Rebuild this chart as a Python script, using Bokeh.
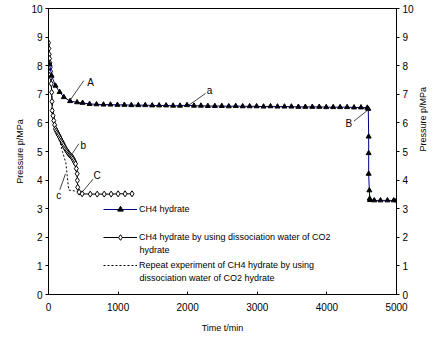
from bokeh.plotting import figure
from bokeh.models import Range1d, LinearAxis, Legend, LegendItem, FixedTicker, ColumnDataSource
from bokeh.embed import file_html
from bokeh.resources import INLINE
from bokeh.core.properties import value
import math

# ---------------- data ----------------
# CH4 hydrate (filled triangles)
t_ch4 = [15, 45, 100, 160, 220, 310, 410, 490, 590, 690, 790, 890, 990, 1090, 1190,
         1290, 1390, 1490, 1590, 1690, 1790, 1890, 1990, 2090, 2190, 2290, 2390, 2490,
         2590, 2690, 2790, 2890, 2990, 3090, 3190, 3290, 3390, 3490, 3590, 3690, 3790,
         3890, 3990, 4090, 4190, 4290, 4390, 4490, 4580, 4595, 4600, 4600, 4600, 4610,
         4615, 4620, 4680, 4770, 4870, 4960, 5000]
p_ch4 = [8.05, 7.65, 7.30, 7.08, 6.90, 6.76, 6.72, 6.70, 6.66, 6.65, 6.64, 6.64, 6.63, 6.63, 6.62,
         6.62, 6.62, 6.61, 6.61, 6.61, 6.60, 6.60, 6.62, 6.60, 6.60, 6.59, 6.59, 6.59,
         6.58, 6.59, 6.58, 6.58, 6.58, 6.57, 6.58, 6.57, 6.57, 6.57, 6.56, 6.56, 6.56,
         6.56, 6.55, 6.55, 6.55, 6.55, 6.54, 6.54, 6.53, 6.49, 5.52, 4.94, 4.22, 3.64,
         3.35, 3.30, 3.29, 3.29, 3.29, 3.29, 3.29]

# CH4 hydrate by using dissociation water of CO2 hydrate (open diamonds)
t_dw = [0, 5, 10, 15, 20, 25, 30, 35, 40, 45, 50, 53, 65, 76, 88, 100, 112, 124, 136,
        148, 160, 172, 184, 196, 208, 220, 232, 244, 256, 268, 280, 292, 304, 316, 328,
        340, 352, 364, 376, 388, 400, 412, 415, 420, 440, 484, 600, 700, 800, 900,
        1000, 1100, 1200]
p_dw = [8.80, 8.60, 8.40, 8.25, 8.10, 7.95, 7.80, 7.60, 7.37, 7.07, 6.75, 6.43, 6.25,
        6.08, 5.93, 5.79, 5.73, 5.67, 5.61, 5.56, 5.50, 5.44, 5.38, 5.33, 5.27, 5.21,
        5.15, 5.10, 5.05, 5.01, 4.96, 4.92, 4.89, 4.86, 4.83, 4.80, 4.75, 4.69, 4.63,
        4.57, 4.40, 4.22, 3.99, 3.75, 3.58, 3.52, 3.51, 3.51, 3.51, 3.51, 3.52, 3.52,
        3.52]

# Repeat experiment (dotted line)
t_rep = [0, 20, 40, 60, 100, 150, 200, 250, 290, 430]
p_rep = [8.75, 8.10, 7.30, 6.50, 5.85, 5.50, 5.00, 4.60, 3.65, 3.60]

x_ticks = [0, 1000, 2000, 3000, 4000, 5000]
y_ticks = [0, 1, 2, 3, 4, 5, 6, 7, 8, 9, 10]

y_title = "Pressure p/MPa"
x_title = "Time t/min"
labels = ["CH4 hydrate",
          "CH4 hydrate by using dissociation water of CO2",
          "Repeat experiment of CH4 hydrate by using"]
label_cont = ["hydrate", "dissociation water of CO2 hydrate"]

# annotation letters and leader lines
ann_text = ["A", "a", "B", "b", "C", "c"]
ann_tx = [603, 2313, 4315, 498, 699, 148]
ann_ty = [7.42, 7.13, 5.99, 5.21, 4.16, 3.46]
lead_x0 = [290, 2011, 4387, 340, 484, 163]
lead_y0 = [6.72, 6.61, 6.06, 4.92, 3.58, 3.66]
lead_x1 = [507, 2256, 4579, 436, 642, 244]
lead_y1 = [7.48, 7.03, 6.43, 5.27, 4.04, 4.22]

FONT = "Liberation Sans"

p = figure(width=446, height=341, output_backend="svg", toolbar_location=None,
           x_range=Range1d(0, 5000), y_range=Range1d(0, 10),
           min_border_left=48, min_border_right=50, min_border_top=8, min_border_bottom=47)
p.xgrid.visible = False
p.ygrid.visible = False
p.outline_line_color = "black"
p.outline_line_width = 1
p.background_fill_color = "white"
p.border_fill_color = "white"

# axes
p.xaxis.ticker = FixedTicker(ticks=x_ticks)
p.yaxis.ticker = FixedTicker(ticks=y_ticks)
p.xaxis.axis_label = x_title
p.yaxis.axis_label = y_title
right = LinearAxis(ticker=FixedTicker(ticks=y_ticks), axis_label=y_title)
p.add_layout(right, "right")
try:
    right.axis_label_orientation = math.pi / 2
except Exception:
    pass

for ax in [p.xaxis[0], p.yaxis[0], right]:
    ax.axis_line_color = "black"
    ax.major_tick_line_color = "black"
    ax.minor_tick_line_color = None
    ax.major_label_text_font = FONT
    ax.major_label_text_font_size = "10px"
    ax.major_label_text_color = "black"
    ax.axis_label_text_font = FONT
    ax.axis_label_text_font_size = "9px"
    ax.axis_label_text_font_style = "normal"
    ax.axis_label_text_color = "black"

p.xaxis.major_tick_in = 3
p.xaxis.major_tick_out = 0
p.xaxis.major_label_standoff = 8
p.xaxis.axis_label_standoff = 9
for ax in [p.yaxis[0], right]:
    ax.major_tick_in = 0
    ax.major_tick_out = 3
    ax.major_label_standoff = 3
p.yaxis.axis_label_standoff = 3
right.axis_label_standoff = 6

# leader lines & letters
ann_src = ColumnDataSource(dict(x0=lead_x0, y0=lead_y0, x1=lead_x1, y1=lead_y1))
p.segment(x0="x0", y0="y0", x1="x1", y1="y1", source=ann_src, line_color="#444444", line_width=1)
txt_src = ColumnDataSource(dict(x=ann_tx, y=ann_ty, t=ann_text))
p.text(x="x", y="y", text="t", source=txt_src, text_font=value(FONT), text_font_size="10px",
       text_align="center", text_baseline="middle", text_color="black")

# series
r_rep = p.line(t_rep, p_rep, line_color="black", line_width=1, line_dash="2 2")
r_dw_l = p.line(t_dw, p_dw, line_color="black", line_width=1)
r_dw_m = p.scatter(t_dw, p_dw, marker="diamond", size=6, fill_color="white",
                   line_color="black", line_width=1)
r_ch_l = p.line(t_ch4, p_ch4, line_color="#000080", line_width=1)
r_ch_m = p.scatter(t_ch4, p_ch4, marker="triangle", size=5, fill_color="black",
                   line_color="black")

legend = Legend(items=[
    LegendItem(label=labels[0], renderers=[r_ch_l, r_ch_m]),
    LegendItem(label=labels[1], renderers=[r_dw_l, r_dw_m]),
    LegendItem(label=labels[2], renderers=[r_rep]),
], location=(55, 22))
legend.border_line_color = None
legend.background_fill_alpha = 0
legend.padding = 0
legend.margin = 0
legend.spacing = 14
legend.label_height = 14
legend.glyph_height = 14
legend.glyph_width = 34
legend.label_standoff = 2
legend.label_text_font = FONT
legend.label_text_font_size = "9px"
legend.label_text_color = "black"
p.add_layout(legend)

# continuation lines of wrapped legend labels
cont_src = ColumnDataSource(dict(x=[1307, 1307], y=[1.54, 0.56], t=label_cont))
p.text(x="x", y="y", text="t", source=cont_src, text_font=value(FONT), text_font_size="9px",
       text_align="left", text_baseline="middle", text_color="black")

open("out.html", "w").write(file_html(p, INLINE))
